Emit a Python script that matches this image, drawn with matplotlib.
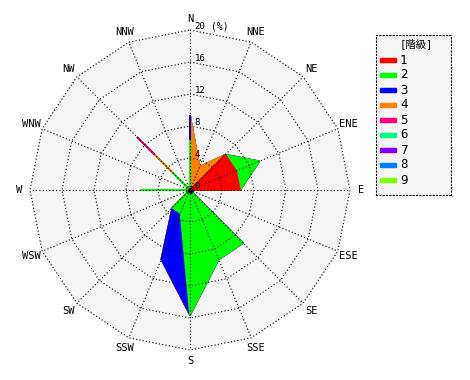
import numpy as np
import matplotlib
matplotlib.use("Agg")
import matplotlib.pyplot as plt
from matplotlib.patches import Rectangle

plt.rcParams['font.family'] = ['DejaVu Sans Mono', 'Noto Sans CJK JP']

# 16 directions, clockwise from north
directions = ['N', 'NNE', 'NE', 'ENE', 'E', 'ESE', 'SE', 'SSE',
              'S', 'SSW', 'SW', 'WSW', 'W', 'WNW', 'NW', 'NNW']

# frequency (%) per class and direction
class1 = [0, 0, 6.25, 6.25, 6.25, 0, 0, 0, 0, 0, 0, 0, 0, 0, 0, 0]
class2 = [6.25, 0, 0, 3.125, 0, 0, 9.375, 9.375, 15.625, 3.125, 3.125, 0, 6.25, 0, 3.125, 0]
class3 = [3.125, 0, 0, 0, 0, 0, 0, 0, 0, 6.25, 0, 0, 0, 0, 0, 0]
class4 = [0, 3.125, 0, 0, 0, 0, 0, 0, 0, 0, 0, 0, 0, 0, 3.125, 0]
class5 = [0, 0, 0, 0, 0, 0, 0, 0, 0, 0, 0, 0, 0, 0, 3.125, 0]
class6 = [0] * 16
class7 = [0] * 16
class8 = [0] * 16
class9 = [0] * 16

class_names = ['1', '2', '3', '4', '5', '6', '7', '8', '9']
class_colors = ['#ff0000', '#00ff00', '#0000ff', '#ff8000', '#ff0080',
                '#00ff80', '#8000ff', '#0080ff', '#80ff00']
ring_levels = [4, 8, 12, 16, 20]

classes = np.array([class1, class2, class3, class4, class5,
                    class6, class7, class8, class9])
cum = np.cumsum(classes, axis=0)

theta = np.deg2rad(np.arange(16) * 22.5)
sx, sy = np.sin(theta), np.cos(theta)

fig = plt.figure(figsize=(4.7, 3.8), dpi=100)
ax = fig.add_axes([14 / 470, 14 / 380, 352 / 470, 352 / 380])
ax.set_xlim(-22, 22)
ax.set_ylim(-22, 22)
ax.axis('off')

# plot background and grid
ax.fill(20 * sx, 20 * sy, color='#f5f5f5', zorder=0)
dot = (0, (1, 2))
for r in ring_levels:
    ax.plot(np.append(r * sx, r * sx[0]), np.append(r * sy, r * sy[0]),
            color='black', lw=0.8, ls=dot, zorder=3)
for i in range(16):
    ax.plot([0, 20 * sx[i]], [0, 20 * sy[i]], color='black', lw=0.8, ls=dot, zorder=3)

# stacked polygons, outer class first
for k in range(8, -1, -1):
    r = cum[k]
    ax.fill(r * sx, r * sy, facecolor=class_colors[k], edgecolor=class_colors[k],
            lw=1.1, zorder=2)

ax.plot(0, 0, 'o', color='black', ms=3, zorder=4)

# direction labels
for i, d in enumerate(directions):
    ax.text(21.4 * sx[i], 21.4 * sy[i], d, ha='center', va='center', fontsize=7.5)

# ring labels
ax.text(0.6, 0.4, '0', fontsize=6.5, ha='left', va='center', zorder=5)
for r in ring_levels:
    ax.text(0.6, r + 0.4, str(r), fontsize=6.5, ha='left', va='center', zorder=5)
ax.text(2.6, 20.4, '(%)', fontsize=7, ha='left', va='center')

# legend box
lax = fig.add_axes([376 / 470, (380 - 195) / 380, 75 / 470, 160 / 380])
lax.set_xlim(0, 75)
lax.set_ylim(160, 0)
lax.set_facecolor('#f5f5f5')
lax.set_xticks([])
lax.set_yticks([])
for s in lax.spines.values():
    s.set_linestyle(dot)
    s.set_linewidth(0.8)
lax.text(40, 8.5, '[階級]', ha='center', va='center', fontsize=7.5)
for i, (name, c) in enumerate(zip(class_names, class_colors)):
    y = 25 + 15 * i
    lax.add_patch(Rectangle((4, y - 2.2), 16, 4.4, color=c))
    lax.text(24, y, name, ha='left', va='center', fontsize=9)

plt.savefig('out.png', dpi=100)
